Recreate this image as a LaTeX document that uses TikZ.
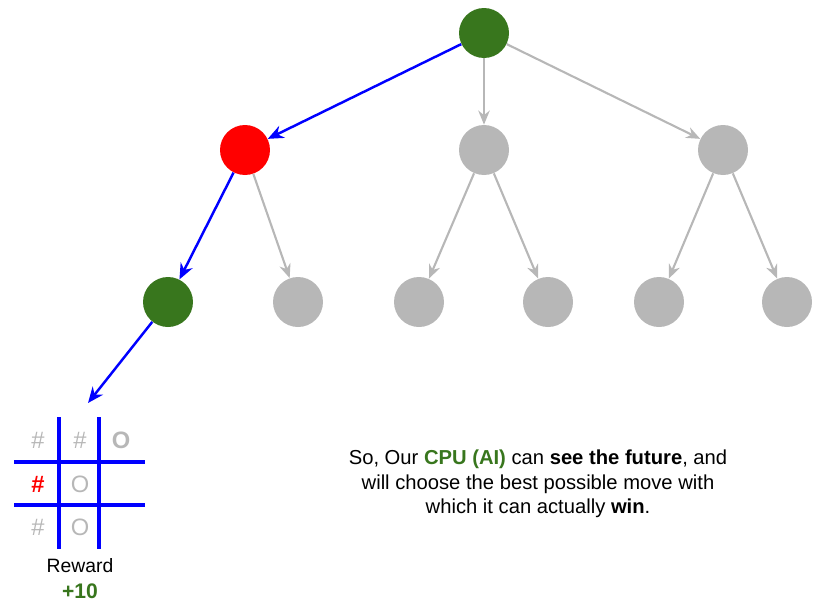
\documentclass[tikz,border=0pt]{standalone}
\usepackage{fontspec}
\setmainfont{Liberation Sans}
\usepackage{xcolor}
\usetikzlibrary{arrows.meta,positioning}
\definecolor{leafgreen}{HTML}{38761D}
\definecolor{hotred}{HTML}{FF0000}
\definecolor{softgray}{HTML}{B7B7B7}
\definecolor{pathblue}{HTML}{0000FF}
\tikzset{
  state/.style={circle,minimum size=1cm,inner sep=0pt,fill=#1},
  grayedge/.style={draw=softgray,line width=1.2pt,-{Stealth[length=8pt,width=6.5pt]}},
  blueedge/.style={draw=pathblue,line width=1.4pt,-{Stealth[length=9pt,width=7.5pt]}},
  gridline/.style={draw=pathblue,line width=2.3pt},
  cell/.style={font=\fontsize{13.5}{13.5}\selectfont,text=softgray},
}
\begin{document}
\begin{tikzpicture}[x=0.02cm,y=-0.02cm]
  \useasboundingbox (0,0) rectangle (821,609);
  % tree
  \node[state=leafgreen] (root) at (484,33) {};
  \node[state=hotred] (l) at (245,150) {};
  \node[state=softgray] (m) at (484,150) {};
  \node[state=softgray] (r) at (723,150) {};
  \node[state=leafgreen] (ll) at (168,302) {};
  \node[state=softgray] (lr) at (298,302) {};
  \node[state=softgray] (ml) at (419,302) {};
  \node[state=softgray] (mr) at (548,302) {};
  \node[state=softgray] (rl) at (659,302) {};
  \node[state=softgray] (rr) at (787,302) {};
  \coordinate (board) at (88,403);
  \draw[blueedge] (root) -- (l);
  \draw[grayedge] (root) -- (m);
  \draw[grayedge] (root) -- (r);
  \draw[blueedge] (l) -- (ll);
  \draw[grayedge] (l) -- (lr);
  \draw[grayedge] (m) -- (ml);
  \draw[grayedge] (m) -- (mr);
  \draw[grayedge] (r) -- (rl);
  \draw[grayedge] (r) -- (rr);
  \draw[blueedge] (ll) -- (board);
  % board
  \draw[gridline] (59,417) -- (59,549);
  \draw[gridline] (99,417) -- (99,549);
  \draw[gridline] (14,462) -- (145,462);
  \draw[gridline] (14,505) -- (145,505);
  \node[cell] (c11) at (38,440) {\#};
  \node[cell] (c12) at (80,440) {\#};
  \node[cell] (c13) at (121,440) {\textbf{O}};
  \node[cell,text=hotred] (c21) at (38,484) {\textbf{\#}};
  \node[cell] (c22) at (80,484) {O};
  \node[cell] (c31) at (38,527) {\#};
  \node[cell] (c32) at (80,527) {O};
  \node[font=\fontsize{11}{12}\selectfont] (reward) at (80,566) {Reward};
  \node[font=\fontsize{12}{12}\selectfont\bfseries,text=leafgreen] (score) at (80,591) {+10};
  % caption
  \node[align=center,font=\fontsize{11.5}{14}\selectfont] (note) at (538,484)
    {So, Our \textcolor{leafgreen}{\textbf{CPU (AI)}} can \textbf{see the future}, and\\
     will choose the best possible move with\\
     which it can actually \textbf{win}.};
\end{tikzpicture}
\end{document}
